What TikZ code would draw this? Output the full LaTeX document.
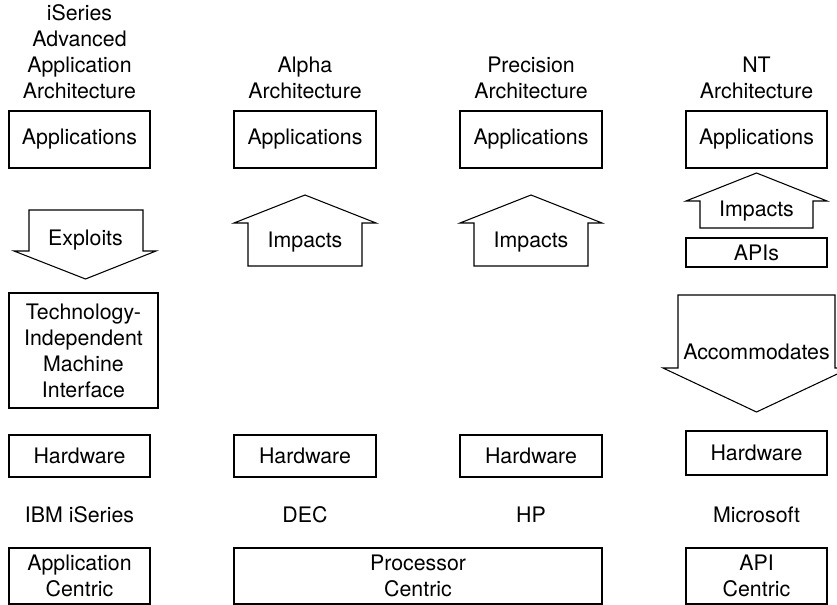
\documentclass[tikz,border=0pt]{standalone}
\usepackage{fontspec}
\setmainfont{TeX Gyre Heros}
\begin{document}
\begin{tikzpicture}[x=0.75pt,y=-0.75pt,
  every node/.style={font=\fontsize{16}{19.5}\selectfont, inner sep=0pt, align=center},
  box/.style 2 args={draw, line width=0.8pt, minimum width=#1*0.75pt, minimum height=#2*0.75pt},
  blockarrow/.style={draw, line width=0.8pt, line join=miter}]
\useasboundingbox (0,0) rectangle (837,605);
\clip (0,0) rectangle (837,605);

% titles
\node (t1) at (79.5,52) {iSeries\\Advanced\\Application\\Architecture};
\node (t2) at (305,78) {Alpha\\Architecture};
\node (t3) at (531,78) {Precision\\Architecture};
\node (t4) at (756.5,78) {NT\\Architecture};

% applications
\node[box={141}{57}] (app1) at (79.5,139.5) {Applications};
\node[box={142}{57}] (app2) at (305,139.5) {Applications};
\node[box={142}{57}] (app3) at (531,139.5) {Applications};
\node[box={141}{57}] (app4) at (756.5,139.5) {Applications};

% column 1: Exploits arrow (down)
\draw[blockarrow] (29,210) -- (143,210) -- (143,251) -- (156,251) -- (85.5,279) -- (14,251) -- (29,251) -- cycle;
\node (exploits) at (85.5,240) {Exploits};
\node[box={149}{115}] (timi) at (83.5,350.5) {Technology-\\Independent\\Machine\\Interface};

% column 2 & 3: Impacts arrows (up)
\draw[blockarrow] (248,266) -- (248,223) -- (234,223) -- (305,195) -- (376,223) -- (362,223) -- (362,266) -- cycle;
\node (imp2) at (305,242) {Impacts};
\draw[blockarrow] (474,266) -- (474,223) -- (460,223) -- (531,195) -- (602,223) -- (588,223) -- (588,266) -- cycle;
\node (imp3) at (531,242) {Impacts};

% column 4
\draw[blockarrow] (700,228) -- (700,201) -- (686,201) -- (756.5,173) -- (827,201) -- (813,201) -- (813,228) -- cycle;
\node (imp4) at (756.5,211) {Impacts};
\node[box={141}{29}] (apis) at (756.5,252.5) {APIs};
\draw[blockarrow] (678,295) -- (835,295) -- (835,368) -- (850,368) -- (756.5,412) -- (663,368) -- (678,368) -- cycle;
\node (accom) at (756.5,352) {Accommodates};

% hardware
\node[box={141}{42}] (hw1) at (79.5,456) {Hardware};
\node[box={142}{42}] (hw2) at (305,456) {Hardware};
\node[box={142}{42}] (hw3) at (531,456) {Hardware};
\node[box={141}{44}] (hw4) at (756.5,453) {Hardware};

% companies
\node (c1) at (79.5,515) {IBM iSeries};
\node (c2) at (305,515) {DEC};
\node (c3) at (531,515) {HP};
\node (c4) at (756.5,515) {Microsoft};

% bottom categories
\node[box={141}{56}] (b1) at (79.5,576) {Application\\Centric};
\node[box={368}{56}] (b2) at (418,576) {Processor\\Centric};
\node[box={141}{56}] (b3) at (756.5,576) {API\\Centric};
\end{tikzpicture}
\end{document}
